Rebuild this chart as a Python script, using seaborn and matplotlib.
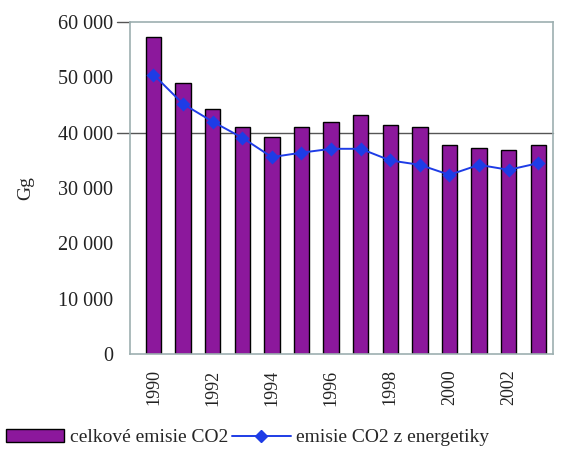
import numpy as np
import pandas as pd
import matplotlib
matplotlib.use('Agg')
import matplotlib.pyplot as plt
import seaborn as sns
from matplotlib.patches import Patch
from matplotlib.lines import Line2D
from matplotlib.ticker import FuncFormatter

# Data (Gg)
years = [str(y) for y in range(1990, 2004)]
total_co2 = [57300, 49000, 44300, 41000, 39200, 41000, 42000,
             43200, 41400, 41000, 37800, 37300, 36900, 37800]
energy_co2 = [50500, 45200, 42000, 39100, 35600, 36400, 37100,
              37100, 35000, 34200, 32400, 34200, 33300, 34500]
yticks = [0, 10000, 20000, 30000, 40000, 50000, 60000]

bar_color = '#8C189C'
line_color = '#1E3CE6'
axis_gray = '#9DAFB0'

sns.set_style('white')
plt.rcParams['font.family'] = ['Liberation Serif', 'DejaVu Serif']

df = pd.DataFrame({'year': years, 'total': total_co2, 'energy': energy_co2})

fig = plt.figure(figsize=(5.62, 4.5), dpi=100)
ax = fig.add_axes([0.231, 0.213, 0.753, 0.738])

sns.barplot(data=df, x='year', y='total', color=bar_color, width=0.52,
            edgecolor='black', linewidth=1.0, saturation=1, ax=ax)
sns.pointplot(data=df, x='year', y='energy', color=line_color, markers='D',
              markersize=6.5, linewidth=1.4, ax=ax)

ax.set_ylim(0, 60000)
ax.set_xlim(-0.8, 13.3)
ax.set_yticks(yticks)
ax.yaxis.set_major_formatter(FuncFormatter(lambda v, p: f'{int(v):,}'.replace(',', ' ')))
ax.tick_params(axis='y', length=0, labelsize=14.5, pad=12, colors='#222222')

ax.set_xticks(range(len(years)))
ax.set_xticklabels([y if i % 2 == 0 else '' for i, y in enumerate(years)],
                   rotation=90, fontsize=13)
ax.tick_params(axis='x', length=0, pad=11, colors='#222222')
ax.set_xticks(np.arange(-0.5, len(years), 1), minor=True)
ax.tick_params(axis='x', which='minor', length=5, color=axis_gray, direction='out')

ax.set_xlabel('')
ax.set_ylabel('Gg', fontsize=14)
ax.yaxis.set_label_coords(-0.225, 0.5)

for s in ax.spines.values():
    s.set_color(axis_gray)
    s.set_linewidth(1.2)

ax.axhline(40000, xmin=-0.03, xmax=1, color='#555555', linewidth=1.0,
           clip_on=False, zorder=0.5)
ax.axhline(60000, xmin=-0.03, xmax=0.0, color='#555555', linewidth=1.0,
           clip_on=False)

handles = [Patch(facecolor=bar_color, edgecolor='black', linewidth=1.0),
           Line2D([], [], color=line_color, marker='D', markersize=6.5, linewidth=1.4)]
fig.legend(handles, ['celkové emisie CO2', 'emisie CO2 z energetiky'],
           loc='lower left', bbox_to_anchor=(0.0, -0.005), ncol=2, frameon=False,
           fontsize=14, handlelength=3.0, handletextpad=0.3, columnspacing=0.2,
           borderaxespad=0.2, borderpad=0.1)

fig.savefig('out.png', dpi=100)
